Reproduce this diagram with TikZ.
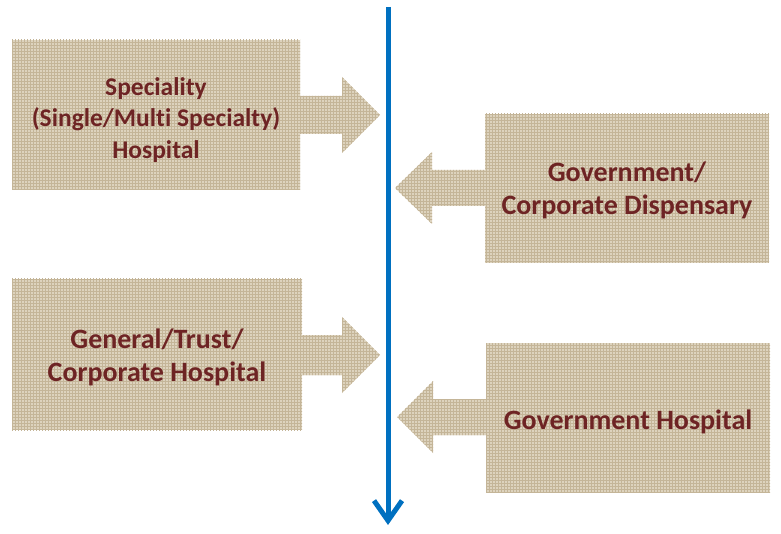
\documentclass[tikz,border=0pt]{standalone}
\usepackage{fontspec}
\setmainfont{Carlito}[Ligatures=NoCommon]
\usetikzlibrary{arrows.meta, calc, patterns}

\definecolor{cloth}{HTML}{DDD3BE}
\definecolor{weave}{HTML}{C4B598}
\definecolor{maroon}{HTML}{6E2424}
\definecolor{lineblue}{HTML}{0070C0}

\begin{document}
\begin{tikzpicture}[x=1pt, y=-1pt,
        hospital/.style={rectangle, fill=cloth, postaction={pattern=grid, pattern color=weave}, minimum width=288, minimum height=150, inner sep=0pt},
        caption/.style={align=center, yshift=-3pt, text=maroon, font=\fontsize{28}{32.5}\selectfont\bfseries},
        feed/.style={fill=cloth, postaction={pattern=grid, pattern color=weave}},
        timeline/.style={-{Straight Barb[length=20pt, width=28pt]}, line width=5pt, lineblue}
    ]
    \useasboundingbox (0,0) rectangle (781,534);

    % feeder arrows first, boxes on top
    \coordinate (spec arrow) at (299,115);
    \coordinate (gen arrow) at (301,355);
    \coordinate (disp arrow) at (486,188);
    \coordinate (govh arrow) at (487,417);

    \fill[feed] (spec arrow) ++(0,-19) -- ++(43,0) -- ++(0,-19) -- ++(38,38) -- ++(-38,38) -- ++(0,-19) -- ++(-43,0) -- cycle;
    \fill[feed] (gen arrow) ++(0,-20) -- ++(41,0) -- ++(0,-18) -- ++(38,38) -- ++(-38,38) -- ++(0,-18) -- ++(-41,0) -- cycle;
    \fill[feed] (disp arrow) ++(0,-18) -- ++(-54,0) -- ++(0,-18) -- ++(-37,36) -- ++(37,36) -- ++(0,-18) -- ++(54,0) -- cycle;
    \fill[feed] (govh arrow) ++(0,-18) -- ++(-54,0) -- ++(0,-18) -- ++(-36,36) -- ++(36,36) -- ++(0,-18) -- ++(54,0) -- cycle;

    \node[hospital, label={[caption, yshift=-2pt, font=\fontsize{25.5}{31.5}\selectfont\bfseries]center:{Speciality\\(Single/Multi Specialty)\\Hospital}}] (spec) at (156,115) {};
    \node[hospital, minimum width=290, minimum height=151, label={[caption]center:{General/Trust/\\Corporate Hospital}}] (gen) at (157,354.5) {};
    \node[hospital, minimum width=284, minimum height=149, label={[caption, yshift=1pt]center:{Government/\\Corporate Dispensary}}] (disp) at (627,188.5) {};
    \node[hospital, minimum width=284, minimum height=149, label={[caption, yshift=-1pt]center:{Government Hospital}}] (govh) at (628,417.5) {};

    \coordinate (start) at (388,7);
    \coordinate (end) at (388,525);
    \draw[timeline] (start) -- (end);
\end{tikzpicture}
\end{document}
